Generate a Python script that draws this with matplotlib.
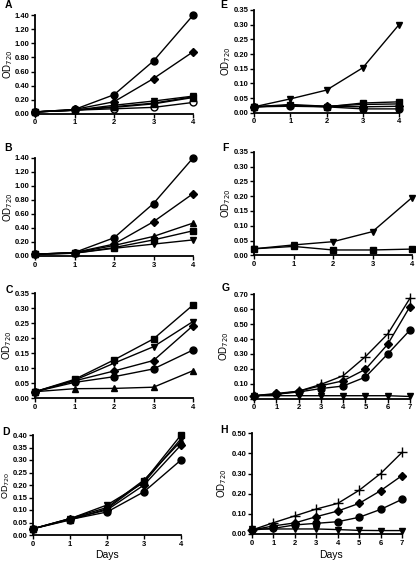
import matplotlib
matplotlib.use("Agg")
import matplotlib.pyplot as plt
import numpy as np

plt.rcParams['font.family'] = ['Liberation Sans', 'DejaVu Sans']

days4 = [0, 1, 2, 3, 4]
days7 = [0, 1, 2, 3, 4, 5, 6, 7]

# Panel A
a_circle = [0.025, 0.06, 0.27, 0.75, 1.40]
a_diamond = [0.025, 0.06, 0.17, 0.50, 0.88]
a_tridown = [0.025, 0.05, 0.12, 0.18, 0.25]
a_square = [0.025, 0.05, 0.10, 0.15, 0.24]
a_triup = [0.025, 0.05, 0.09, 0.14, 0.23]
a_open = [0.025, 0.05, 0.07, 0.09, 0.16]
# Panel B
b_circle = [0.025, 0.05, 0.26, 0.75, 1.40]
b_diamond = [0.025, 0.05, 0.17, 0.49, 0.89]
b_triup = [0.025, 0.045, 0.15, 0.28, 0.47]
b_square = [0.025, 0.04, 0.12, 0.23, 0.36]
b_tridown = [0.025, 0.04, 0.11, 0.17, 0.23]
# Panel C
c_square = [0.022, 0.063, 0.128, 0.198, 0.311]
c_tridown = [0.022, 0.060, 0.117, 0.172, 0.256]
c_diamond = [0.022, 0.058, 0.091, 0.126, 0.242]
c_circle = [0.022, 0.053, 0.072, 0.098, 0.161]
c_triup = [0.022, 0.032, 0.033, 0.037, 0.092]
# Panel D
d_circle = [0.025, 0.062, 0.092, 0.173, 0.30]
d_diamond = [0.025, 0.065, 0.100, 0.200, 0.36]
d_square = [0.025, 0.060, 0.105, 0.215, 0.40]
d_tridown = [0.025, 0.065, 0.120, 0.210, 0.385]
d_triup = [0.025, 0.066, 0.110, 0.220, 0.375]
# Panel E
e_tridown = [0.02, 0.047, 0.077, 0.153, 0.30]
e_square = [0.02, 0.025, 0.020, 0.033, 0.037]
e_triup = [0.02, 0.028, 0.022, 0.028, 0.030]
e_diamond = [0.02, 0.025, 0.022, 0.020, 0.022]
e_circle = [0.02, 0.022, 0.020, 0.013, 0.013]
# Panel F
f_tridown = [0.022, 0.035, 0.046, 0.080, 0.195]
f_square = [0.022, 0.030, 0.018, 0.018, 0.021]
# Panel G
g_plus = [0.02, 0.03, 0.05, 0.096, 0.154, 0.282, 0.434, 0.674]
g_diamond = [0.02, 0.035, 0.05, 0.087, 0.12, 0.197, 0.365, 0.618]
g_circle = [0.02, 0.03, 0.045, 0.068, 0.085, 0.145, 0.30, 0.46]
g_tridown = [0.02, 0.02, 0.02, 0.02, 0.02, 0.02, 0.02, 0.015]
# Panel H
h_plus = [0.02, 0.056, 0.09, 0.124, 0.152, 0.217, 0.30, 0.405]
h_diamond = [0.02, 0.04, 0.055, 0.086, 0.114, 0.152, 0.215, 0.29]
h_circle = [0.02, 0.028, 0.045, 0.053, 0.061, 0.083, 0.122, 0.172]
h_tridown = [0.025, 0.025, 0.025, 0.025, 0.022, 0.018, 0.017, 0.017]

W, H = 416, 561
fig = plt.figure(figsize=(W / 100, H / 100), dpi=100)


def make_ax(x0, x1, ytop, yzero):
    return fig.add_axes([x0 / W, 1 - yzero / H, (x1 - x0) / W, (yzero - ytop) / H])


def style(ax, xmax, ymax, yticks, letter, letter_xy, ylab_x, days_xy=None,
          ylab_size=7):
    ax.set_xlim(0, xmax)
    ax.set_ylim(0, ymax)
    ax.set_xticks(range(xmax + 1))
    ax.set_yticks(yticks)
    ax.set_yticklabels(['{:.2f}'.format(v) for v in yticks])
    for s in ['top', 'right']:
        ax.spines[s].set_visible(False)
    for s in ['left', 'bottom']:
        ax.spines[s].set_linewidth(1.3)
    ax.tick_params(direction='out', length=3, width=1.0, labelsize=5.5, pad=1.0)
    for lab in ax.get_xticklabels() + ax.get_yticklabels():
        lab.set_fontweight('bold')
    ax.set_ylabel('OD$_{720}$', fontsize=ylab_size)
    ax.yaxis.label.set_va('center')
    ax.yaxis.label.set_ha('center')
    pos = ax.get_position()
    ax.yaxis.set_label_coords(ylab_x / W, pos.y0 + pos.height / 2,
                              transform=fig.transFigure)
    if days_xy is not None:
        fig.text(days_xy[0] / W, 1 - days_xy[1] / H, 'Days', fontsize=7.5,
                 ha='center', va='center')
    fig.text(letter_xy[0] / W, 1 - letter_xy[1] / H, letter, fontsize=7.5,
             fontweight='bold', ha='center', va='center')


def plot(ax, x, y, marker, ms=5, open_=False):
    ax.plot(x, y, color='black', lw=1.0, marker=marker, ms=ms,
            mfc='white' if open_ else 'black', mec='black', mew=1.0,
            clip_on=False, zorder=3)


# A
ax = make_ax(35, 193, 15.3, 113.7)
plot(ax, days4, a_open, 'o', open_=True)
plot(ax, days4, a_triup, '^')
plot(ax, days4, a_square, 's', ms=4.5)
plot(ax, days4, a_tridown, 'v')
plot(ax, days4, a_diamond, 'D', ms=4.5)
plot(ax, days4, a_circle, 'o')
style(ax, 4, 1.40, np.arange(0, 1.41, 0.2), 'A', (8, 5), 8)

# B
ax = make_ax(35, 193, 158, 256)
plot(ax, days4, b_tridown, 'v')
plot(ax, days4, b_square, 's', ms=4.5)
plot(ax, days4, b_triup, '^')
plot(ax, days4, b_diamond, 'D', ms=4.5)
plot(ax, days4, b_circle, 'o')
style(ax, 4, 1.40, np.arange(0, 1.41, 0.2), 'B', (8, 148), 8)

# C
ax = make_ax(35, 193, 293.3, 398.3)
plot(ax, days4, c_triup, '^')
plot(ax, days4, c_circle, 'o')
plot(ax, days4, c_diamond, 'D', ms=4.5)
plot(ax, days4, c_tridown, 'v')
plot(ax, days4, c_square, 's', ms=4.5)
style(ax, 4, 0.35, np.arange(0, 0.351, 0.05), 'C', (9, 290), 7.5)

# D
ax = make_ax(33, 181, 435, 535)
plot(ax, days4, d_circle, 'o')
plot(ax, days4, d_diamond, 'D', ms=4.5)
plot(ax, days4, d_triup, '^')
plot(ax, days4, d_tridown, 'v')
plot(ax, days4, d_square, 's', ms=4.5)
style(ax, 4, 0.40, np.arange(0, 0.401, 0.05), 'D', (6, 432), 6.2,
      days_xy=(107, 555), ylab_size=6.5)

# E
ax = make_ax(254, 399, 10, 112.7)
plot(ax, days4, e_circle, 'o')
plot(ax, days4, e_diamond, 'D', ms=4.5)
plot(ax, days4, e_triup, '^')
plot(ax, days4, e_square, 's', ms=4.5)
plot(ax, days4, e_tridown, 'v')
style(ax, 4, 0.35, np.arange(0, 0.351, 0.05), 'E', (224, 5), 226)

# F
ax = make_ax(254, 412, 151.7, 255.3)
plot(ax, days4, f_square, 's', ms=4.5)
plot(ax, days4, f_tridown, 'v')
style(ax, 4, 0.35, np.arange(0, 0.351, 0.05), 'F', (225, 148), 226)

# G
ax = make_ax(254, 410, 294.3, 398.7)
plot(ax, days7, g_tridown, 'v')
plot(ax, days7, g_circle, 'o')
plot(ax, days7, g_diamond, 'D', ms=4.5)
plot(ax, days7, g_plus, '+', ms=7)
style(ax, 7, 0.70, np.arange(0, 0.701, 0.1), 'G', (226, 288), 224)

# H
ax = make_ax(252, 402, 433.3, 534)
plot(ax, days7, h_tridown, 'v')
plot(ax, days7, h_circle, 'o')
plot(ax, days7, h_diamond, 'D', ms=4.5)
plot(ax, days7, h_plus, '+', ms=7)
style(ax, 7, 0.50, np.arange(0, 0.501, 0.1), 'H', (224, 430), 222,
      days_xy=(331, 555))

fig.savefig('out.png', dpi=100)
